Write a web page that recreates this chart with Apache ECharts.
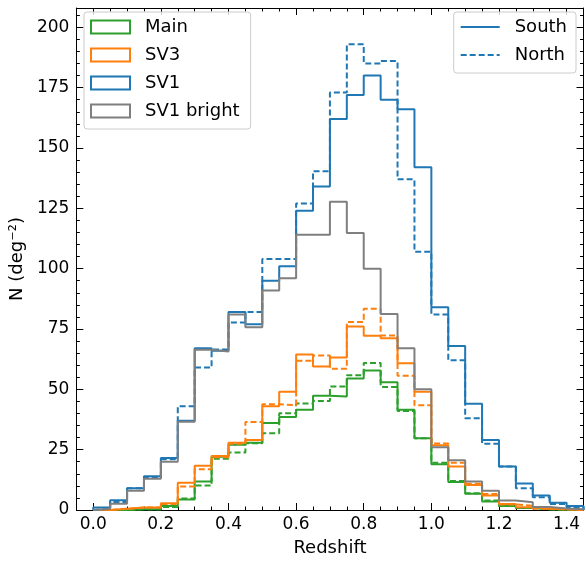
<!DOCTYPE html>
<html>
<head>
<meta charset="utf-8">
<script src="https://cdn.jsdelivr.net/npm/echarts@6/dist/echarts.min.js"></script>
<style>
html,body{margin:0;padding:0;background:#fff;}
#chart{width:586px;height:563px;}
</style>
</head>
<body>
<div id="chart"></div>
<script>
// Bin left edges (redshift), last value is the right edge of the final bin
const binEdges = [0.00,0.05,0.10,0.15,0.20,0.25,0.30,0.35,0.40,0.45,0.50,0.55,0.60,0.65,0.70,
                  0.75,0.80,0.85,0.90,0.95,1.00,1.05,1.10,1.15,1.20,1.25,1.30,1.35,1.40,1.45];

const mainSouth = [0,0,0.3,0.3,1.7,4.4,11.8,22.1,27,27.9,36,38.5,41.5,47.3,47,54.5,57.8,52.9,41.5,29.7,19,11.6,6.7,3.5,1.7,0.8,0.3,0.1,0];
const mainNorth = [0,0,0.3,0.3,1.2,4.8,10.1,21.2,23.8,27.7,31.8,40.1,44.1,45.2,51.2,55.8,60.9,51,41,29.7,19.6,12,6.9,3.9,1.7,0.8,0.3,0.1,0];
const sv3South  = [0,0.5,1,1,2.8,11.3,18.3,22.4,27.9,29,43,49,64.4,59.5,63.2,76,72.2,71.2,60.8,49,26.8,18,10.4,6,2.5,1.1,0.5,0.3,0];
const sv3North  = [0,0.5,1,1,2.5,9.7,16.9,21.9,27.4,36.5,43.8,43.4,61.8,64,58.5,77.9,83.4,72.3,55.6,43.4,27.6,19.6,10.9,6.6,2.3,1.7,0.5,0.3,0];
const sv1South  = [1,4,9,14,21.5,37,67,66,82,77,95,101,124,134,162,172,180,170,166,142,84,68,44,29,18,11,6,3,1.7];
const sv1North  = [0.5,3.3,9,13.5,21,43,59,66.5,77.7,82,104,104,127,140.4,173,193,185,186,137,107,81,62,38,27.5,18,9,5.3,2.5,1.1];
const sv1Bright = [0.5,2.6,8,13,20,36.6,66.4,65.7,81,75.7,91,96,114,114,127.7,114.8,100,81.2,67,50,26,20.6,11.8,8,3.9,3.2,1.2,0.6,0.3];

const xMajorTicks = [0.0,0.2,0.4,0.6,0.8,1.0,1.2,1.4];
const yMajorTicks = [0,25,50,75,100,125,150,175,200];

const GREEN = '#2ca02c', ORANGE = '#ff7f0e', BLUE = '#1f77b4', GREY = '#7f7f7f';
const DASH = [6, 3];
const FONT = 'DejaVu Sans';

function stepData(vals) {
  const pts = [[binEdges[0], 0]];
  for (let i = 0; i < vals.length; i++) pts.push([binEdges[i], vals[i]]);
  pts.push([binEdges[vals.length], vals[vals.length - 1]]);
  pts.push([binEdges[vals.length], 0]);
  return pts;
}
function hist(name, vals, color, dashed) {
  return {
    name: name, type: 'line', step: 'end', data: stepData(vals),
    showSymbol: false, symbol: 'none', silent: true, animation: false,
    lineStyle: { color: color, width: 2, type: dashed ? DASH : 'solid' },
    itemStyle: { color: color },
    clip: true
  };
}

const X0 = -0.05, X1 = 1.45, Y0 = 0, Y1 = 208;
function xAx(pos, minor, labels) {
  return {
    type: 'value', position: pos, min: X0, max: X1,
    interval: 0.05,
    axisLine: { show: minor, onZero: false, lineStyle: { color: '#000', width: 1 } },
    axisTick: minor ? { show: true, inside: true, length: 3.5, lineStyle: { color: '#000', width: 1 } }
                    : { show: true, inside: true, length: 7, customValues: xMajorTicks, lineStyle: { color: '#000', width: 1 } },
    axisLabel: labels ? { show: true, customValues: xMajorTicks, formatter: v => Number(v).toFixed(1),
                          color: '#000', fontSize: 17, fontFamily: FONT, margin: 6 } : { show: false },
    splitLine: { show: false }
  };
}
function yAx(pos, minor, labels) {
  return {
    type: 'value', position: pos, min: Y0, max: Y1,
    interval: 5,
    axisLine: { show: minor, onZero: false, lineStyle: { color: '#000', width: 1 } },
    axisTick: minor ? { show: true, inside: true, length: 3.5, lineStyle: { color: '#000', width: 1 } }
                    : { show: true, inside: true, length: 7, customValues: yMajorTicks, lineStyle: { color: '#000', width: 1 } },
    axisLabel: labels ? { show: true, customValues: yMajorTicks, color: '#000', fontSize: 17, fontFamily: FONT, margin: 7 } : { show: false },
    splitLine: { show: false }
  };
}

const xAxes = [xAx('bottom', true, true), xAx('bottom', false, false), xAx('top', true, false), xAx('top', false, false)];
xAxes[0].name = 'Redshift';
xAxes[0].nameLocation = 'middle';
xAxes[0].nameGap = 29;
xAxes[0].nameTextStyle = { color: '#000', fontSize: 18, fontFamily: FONT };
const yAxes = [yAx('left', true, true), yAx('left', false, false), yAx('right', true, false), yAx('right', false, false)];
yAxes[0].name = 'N (deg⁻²)';
yAxes[0].nameLocation = 'middle';
yAxes[0].nameGap = 46;
yAxes[0].nameTextStyle = { color: '#000', fontSize: 18, fontFamily: FONT };

const series = [
  hist('Main', mainSouth, GREEN, false),
  hist('Main North', mainNorth, GREEN, true),
  hist('SV3', sv3South, ORANGE, false),
  hist('SV3 North', sv3North, ORANGE, true),
  hist('SV1', sv1South, BLUE, false),
  hist('SV1 North', sv1North, BLUE, true),
  hist('SV1 bright', sv1Bright, GREY, false),
  { name: 'South', type: 'line', data: [], symbol: 'none', lineStyle: { color: BLUE, width: 2, type: 'solid' }, itemStyle: { color: BLUE } },
  { name: 'North', type: 'line', data: [], symbol: 'none', lineStyle: { color: BLUE, width: 2, type: DASH }, itemStyle: { color: BLUE } }
];

function patch(name, color) {
  return { name: name, icon: 'rect', itemStyle: { color: '#ffffff', borderColor: color, borderWidth: 2 } };
}
const legendBox = {
  orient: 'vertical', backgroundColor: 'rgba(255,255,255,0.8)', borderColor: '#cccccc', borderWidth: 1,
  borderRadius: 3, itemGap: 8, selectedMode: false,
  textStyle: { color: '#000', fontSize: 18, fontFamily: FONT, lineHeight: 20, padding: [0, 0, 0, 10] }
};

const option = {
  animation: false,
  backgroundColor: '#ffffff',
  grid: { left: 75, right: 2.5, top: 8, bottom: 53, containLabel: false },
  xAxis: xAxes,
  yAxis: yAxes,
  legend: [
    Object.assign({}, legendBox, {
      left: 84, top: 12, padding: [5, 11, 8, 6], itemWidth: 39, itemHeight: 13,
      data: [patch('Main', GREEN), patch('SV3', ORANGE), patch('SV1', BLUE), patch('SV1 bright', GREY)]
    }),
    Object.assign({}, legendBox, {
      right: 10, top: 12, padding: [5, 9, 8, 6], itemWidth: 39, itemHeight: 13,
      data: [
        { name: 'South', itemStyle: { opacity: 0 }, lineStyle: { color: BLUE, width: 2, type: 'solid' } },
        { name: 'North', itemStyle: { opacity: 0 }, lineStyle: { color: BLUE, width: 2, type: DASH } }
      ]
    })
  ],
  series: series
};

const chart = echarts.init(document.getElementById('chart'), null, { renderer: 'canvas' });
chart.setOption(option);
</script>
</body>
</html>
